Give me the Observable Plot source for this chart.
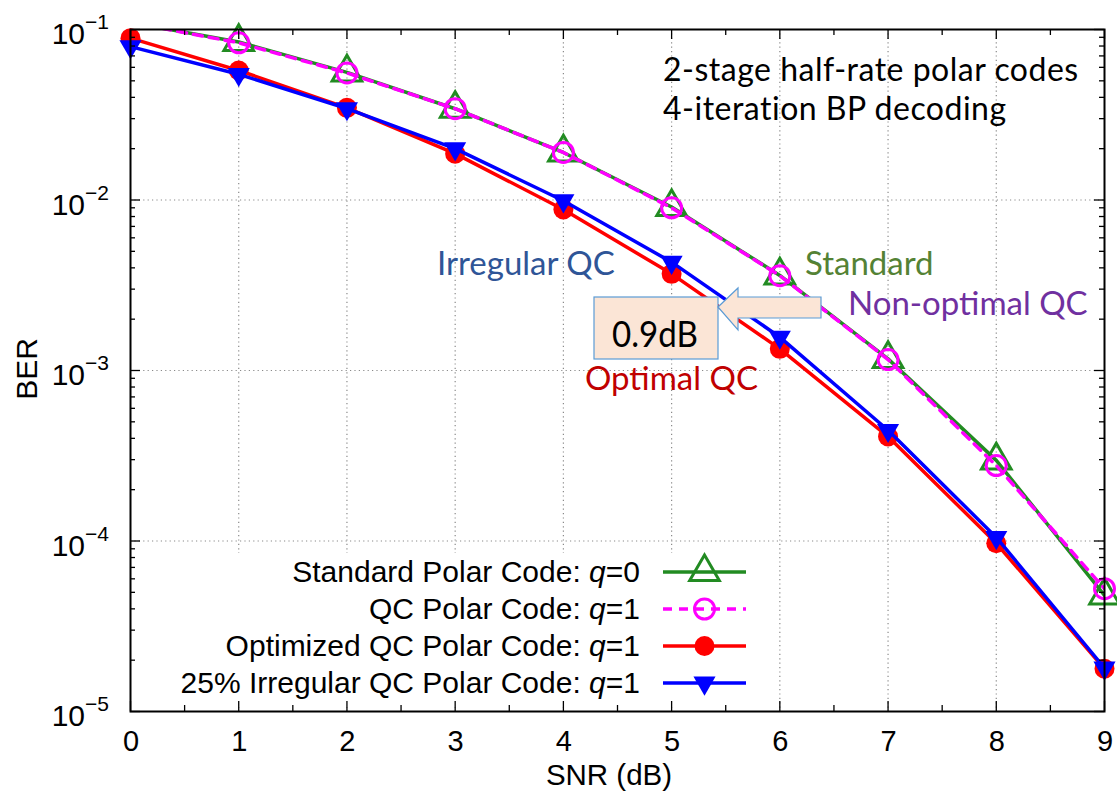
<!DOCTYPE html>
<html>
<head>
<meta charset="utf-8">
<script src="https://cdn.jsdelivr.net/npm/d3@7"></script>
<script src="https://cdn.jsdelivr.net/npm/@observablehq/plot@0.6"></script>
<style>
  body { margin: 0; background: #fff; }
  svg { display: block; }
</style>
</head>
<body>
<div id="chart"></div>
<script>
// SNR sweep (dB) and BER for each decoder configuration
const snr = [0, 1, 2, 3, 4, 5, 6, 7, 8, 9];
const berStandard  = [0.110, 0.0845, 0.0560, 0.0343, 0.0190, 0.0091, 0.00361, 0.00117, 0.000297, 0.0000480];
const berQC        = [0.110, 0.0836, 0.0556, 0.0343, 0.0190, 0.0090, 0.00360, 0.00116, 0.000277, 0.0000525];
const berOptimized = [0.0890, 0.0575, 0.0347, 0.0187, 0.0088, 0.00369, 0.00134, 0.000410, 0.0000970, 0.0000178];
const berIrregular = [0.0794, 0.0546, 0.0344, 0.0200, 0.0099, 0.00432, 0.00157, 0.000446, 0.000105, 0.0000180];

const seriesNames = [
  "Standard Polar Code: q=0",
  "QC Polar Code: q=1",
  "Optimized QC Polar Code: q=1",
  "25% Irregular QC Polar Code: q=1"
];

// Axis ticks
const xTicks = [0, 1, 2, 3, 4, 5, 6, 7, 8, 9];
const xMinorTicks = [0.5, 1.5, 2.5, 3.5, 4.5, 5.5, 6.5, 7.5, 8.5];
const yTicks = [1e-5, 1e-4, 1e-3, 1e-2, 1e-1];
const yMinorTicks = [];
for (const decade of [1e-5, 1e-4, 1e-3, 1e-2]) {
  for (const m of [2, 3, 4, 5, 6, 7, 8, 9]) yMinorTicks.push(m * decade);
}

// Long-format table built from the arrays above
const berBySeries = [berStandard, berQC, berOptimized, berIrregular];
const table = [];
seriesNames.forEach((name, s) => {
  snr.forEach((x, i) => table.push({series: name, snr: x, ber: berBySeries[s][i]}));
});
const rowsOf = (s) => table.filter(d => d.series === seriesNames[s]);
const yMax = yTicks[yTicks.length - 1];
const visible = (s) => rowsOf(s).filter(d => d.ber <= yMax);

const GREEN = "#228b22", MAGENTA = "#ff00ff", RED = "#ff0000", BLUE = "#0000ff";

const W = 1117, H = 804;
const M = {top: 29, right: 13, bottom: 93, left: 130};
const innerW = W - M.left - M.right;
const innerH = H - M.top - M.bottom;
const LW = 3.5;
const TICK = {stroke: "#000", strokeWidth: 1.3};

const chart = Plot.plot({
  width: W,
  height: H,
  marginTop: M.top,
  marginRight: M.right,
  marginBottom: M.bottom,
  marginLeft: M.left,
  style: {fontFamily: "'Liberation Sans', Arial, Helvetica, sans-serif", background: "#fff", color: "#000", overflow: "visible"},
  x: {domain: [0, 9], label: null, axis: null},
  y: {type: "log", domain: [yTicks[0], yMax], label: null, axis: null},
  marks: [
    // dotted grid
    Plot.ruleX(xTicks.slice(1, -1), {x: d => d, stroke: "#8a8a8a", strokeWidth: 1.2, strokeDasharray: "1.2,3.2"}),
    Plot.ruleY(yTicks.slice(1, -1), {y: d => d, stroke: "#8a8a8a", strokeWidth: 1.2, strokeDasharray: "1.2,3.2"}),

    // Standard polar code
    Plot.line(rowsOf(0), {x: "snr", y: "ber", stroke: GREEN, strokeWidth: LW, clip: true}),
    Plot.dot(visible(0), {x: "snr", y: "ber", symbol: "triangle", r: 11, fill: "none", stroke: GREEN, strokeWidth: 3}),
    // QC polar code
    Plot.line(rowsOf(1), {x: "snr", y: "ber", stroke: MAGENTA, strokeWidth: LW, strokeDasharray: "9,7", clip: true}),
    Plot.dot(visible(1), {x: "snr", y: "ber", symbol: "circle", r: 10, fill: "none", stroke: MAGENTA, strokeWidth: 3}),
    // Optimized QC
    Plot.line(rowsOf(2), {x: "snr", y: "ber", stroke: RED, strokeWidth: LW, clip: true}),
    Plot.dot(rowsOf(2), {x: "snr", y: "ber", symbol: "circle", r: 10, fill: RED, stroke: "none"}),
    // 25% irregular QC
    Plot.line(rowsOf(3), {x: "snr", y: "ber", stroke: BLUE, strokeWidth: LW, clip: true}),
    Plot.dot(rowsOf(3), {x: "snr", y: "ber", symbol: "triangle", r: 8.2, rotate: 180, fill: BLUE, stroke: "none"}),

    // frame and inward ticks on all four sides
    Plot.frame({stroke: "#000", strokeWidth: 2}),
    Plot.tickX(xTicks, {x: d => d, insetTop: innerH - 10, ...TICK}),
    Plot.tickX(xTicks, {x: d => d, insetBottom: innerH - 10, ...TICK}),
    Plot.tickX(xMinorTicks, {x: d => d, insetTop: innerH - 6, ...TICK}),
    Plot.tickX(xMinorTicks, {x: d => d, insetBottom: innerH - 6, ...TICK}),
    Plot.tickY(yTicks, {y: d => d, insetRight: innerW - 10, ...TICK}),
    Plot.tickY(yTicks, {y: d => d, insetLeft: innerW - 10, ...TICK}),
    Plot.tickY(yMinorTicks, {y: d => d, insetRight: innerW - 5, ...TICK}),
    Plot.tickY(yMinorTicks, {y: d => d, insetLeft: innerW - 5, ...TICK})
  ]
});
document.getElementById("chart").appendChild(chart);

const svg = d3.select(chart);
const xs = chart.scale("x"), ys = chart.scale("y");

// Tick labels placed with the plot's own scales
const tickLabels = svg.append("g").attr("font-size", 29).attr("fill", "#000");
xTicks.forEach(v => {
  tickLabels.append("text")
    .attr("x", xs.apply(v) + 1).attr("y", H - M.bottom + 40)
    .attr("text-anchor", "middle")
    .text(String(v));
});
// Power-of-ten labels: "10" with a raised exponent
yTicks.forEach(v => {
  const exp = Math.round(Math.log10(v));
  const t = tickLabels.append("text")
    .attr("x", M.left - 21).attr("y", ys.apply(v))
    .attr("text-anchor", "end")
    .attr("font-size", 30);
  t.append("tspan").attr("dy", 15).text("10");
  t.append("tspan").attr("dy", -15).attr("font-size", 21).text("\u2212" + Math.abs(exp));
});

// Axis titles
svg.append("text")
  .attr("x", 609).attr("y", 785)
  .attr("text-anchor", "middle")
  .attr("font-size", 29.5)
  .text("SNR (dB)");
svg.append("text")
  .attr("transform", "translate(37,369) rotate(-90)")
  .attr("text-anchor", "middle")
  .attr("font-size", 30)
  .text("BER");

// Key (gnuplot style, bottom-left inside the frame)
svg.insert("rect", "g[aria-label='line']")
  .attr("x", 136).attr("y", 553).attr("width", 624).attr("height", 154)
  .attr("fill", "#fff");

const keyStyles = [
  {stroke: GREEN, dash: null, symbol: d3.symbolTriangle, r: 11, fill: "none", mstroke: GREEN, rotate: 0},
  {stroke: MAGENTA, dash: "9,7", symbol: d3.symbolCircle, r: 10, fill: "none", mstroke: MAGENTA, rotate: 0},
  {stroke: RED, dash: null, symbol: d3.symbolCircle, r: 10, fill: RED, mstroke: "none", rotate: 0},
  {stroke: BLUE, dash: null, symbol: d3.symbolTriangle, r: 8.2, fill: BLUE, mstroke: "none", rotate: 180}
];
const key = svg.append("g").attr("font-size", 30);
seriesNames.forEach((name, i) => {
  const cy = 572 + i * 37;
  const st = keyStyles[i];
  const [label, qval] = name.split(": q=");
  const txt = key.append("text").attr("x", 640).attr("y", cy + 10).attr("text-anchor", "end");
  txt.append("tspan").text(label + ": ");
  txt.append("tspan").attr("font-style", "italic").text("q");
  txt.append("tspan").text("=" + qval);
  key.append("line")
    .attr("x1", 663).attr("x2", 746).attr("y1", cy).attr("y2", cy)
    .attr("stroke", st.stroke).attr("stroke-width", LW)
    .attr("stroke-dasharray", st.dash);
  key.append("path")
    .attr("d", d3.symbol(st.symbol, Math.PI * st.r * st.r)())
    .attr("transform", `translate(704.5,${cy}) rotate(${st.rotate})`)
    .attr("fill", st.fill).attr("stroke", st.mstroke).attr("stroke-width", 3);
});

// Annotations
const note = svg.append("g")
  .attr("font-family", "Lato, 'Open Sans', sans-serif")
  .attr("text-anchor", "start")
  .attr("font-size", 33);
const caption = note.append("text")
  .attr("x", 663).attr("y", 81)
  .attr("font-size", 32).attr("letter-spacing", 0.5)
  .attr("fill", "#000");
caption.append("tspan").attr("x", 663).text("2-stage half-rate polar codes");
caption.append("tspan").attr("x", 663).attr("dy", 39).text("4-iteration BP decoding");
note.append("text").attr("x", 437).attr("y", 275).attr("fill", "#2f5597")
  .text("Irregular QC");
note.append("text").attr("x", 805).attr("y", 275).attr("fill", "#548235")
  .text("Standard");
note.append("text").attr("x", 848).attr("y", 315).attr("fill", "#7030a0")
  .text("Non-optimal QC");
note.append("text").attr("x", 585).attr("y", 390).attr("fill", "#c00000")
  .text("Optimal QC");

// 0.9 dB gap callout
note.append("rect")
  .attr("x", 594).attr("y", 297).attr("width", 124).attr("height", 62)
  .attr("fill", "#fbe5d6").attr("stroke", "#5b9bd5").attr("stroke-width", 1.2);
note.append("text").attr("x", 655).attr("y", 347).attr("text-anchor", "middle")
  .attr("font-size", 37).attr("textLength", 86).attr("lengthAdjust", "spacingAndGlyphs")
  .attr("fill", "#000").text("0.9dB");
note.append("path")
  .attr("d", "M718,307 L738,288 L738,297 L821,297 L821,318 L738,318 L738,330 Z")
  .attr("fill", "#fbe5d6").attr("stroke", "#5b9bd5").attr("stroke-width", 1.2);
</script>
</body>
</html>
